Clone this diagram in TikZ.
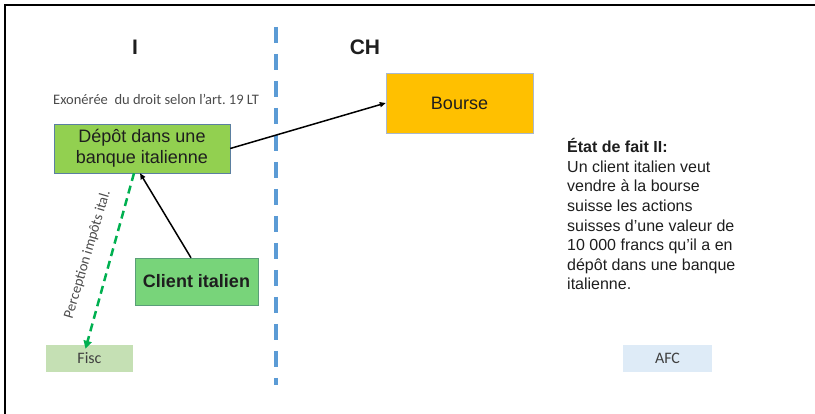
\documentclass[tikz,border=0pt]{standalone}
\usepackage{fontspec}
\setmainfont{Liberation Sans}
\newfontfamily\calibri{Carlito}
\usetikzlibrary{arrows.meta}
\definecolor{depotgreen}{HTML}{92D050}
\definecolor{depotline}{HTML}{5B7FA0}
\definecolor{clientgreen}{HTML}{78D47A}
\definecolor{clientline}{HTML}{5A9E78}
\definecolor{bourseyellow}{HTML}{FFC000}
\definecolor{bourseline}{HTML}{A9B8CC}
\definecolor{fiscgreen}{HTML}{C5E0B4}
\definecolor{afcblue}{HTML}{DEEBF7}
\definecolor{borderblue}{HTML}{5B9BD5}
\definecolor{taxgreen}{HTML}{00B050}
\definecolor{ink}{HTML}{1E1E1E}

\begin{document}
\begin{tikzpicture}[x=1pt,y=-1pt,font=\fontsize{18}{21}\selectfont,text=ink,
	box/.style={inner sep=0pt,align=center},
	small/.style={font=\calibri\fontsize{16}{19}\selectfont,text=ink!85},
	note/.style={font=\calibri\fontsize{14.5}{17}\selectfont,text=ink!80},
	flow/.style={-{Triangle[length=6pt,width=5pt]},line width=1.5pt,black},
	country/.style={font=\fontsize{21}{25}\selectfont\bfseries}]
	\useasboundingbox (0,0) rectangle (815,414);
	\draw[line width=2.5pt] (5,414) -- (5,5) -- (815,5);
	\draw[borderblue,line width=3.5pt,dash pattern=on 16pt off 11pt] (276,27) -- (276,385);
	\node[country] (I) at (135,47) {I};
	\node[country] (CH) at (365,47) {CH};
	\node[note,anchor=west,inner sep=0pt] (exo) at (53,99.5) {Exonérée\ \ du droit selon l’art.\ 19 LT};
	\node[box,draw=depotline,fill=depotgreen,minimum width=176pt,minimum height=49pt] (depot) at (142,148.5) {Dépôt dans une\\banque italienne};
	\node[box,draw=bourseline,fill=bourseyellow,minimum width=147pt,minimum height=60pt] (bourse) at (459.5,103) {Bourse};
	\node[box,draw=clientline,fill=clientgreen,minimum width=123pt,minimum height=47pt,font=\fontsize{18}{21}\selectfont\bfseries] (client) at (196.5,281.5) {Client italien};
	\node[box,small,fill=fiscgreen,minimum width=87pt,minimum height=27pt] (fisc) at (89.5,358.5) {Fisc};
	\node[box,small,fill=afcblue,minimum width=89pt,minimum height=27pt] (afc) at (667.5,358.5) {AFC};
	\node[anchor=base west,inner sep=0pt,align=left,font=\fontsize{16}{19.6}\selectfont] (etat) at (567,290) {\textbf{État de fait II:}\\Un client italien veut\\vendre à la bourse\\suisse les actions\\suisses d’une valeur de\\10 000 francs qu’il a en\\dépôt dans une banque\\italienne.};
	% connectors
	\draw[flow] (depot.east) -- (bourse.west);
	\draw[flow] ([xshift=-5.5pt]client.north) -- ([xshift=-2pt]depot.south);
	\draw[taxgreen,line width=2.5pt,dash pattern=on 8pt off 5pt,-{Triangle[length=8pt,width=8pt]}] ([xshift=-8pt]depot.south) -- node[note,midway,rotate=73.5,anchor=south,inner sep=0pt,outer sep=17pt]{Perception impôts ital.} ([xshift=-4pt,yshift=-4pt]fisc.north);
\end{tikzpicture}
\end{document}
